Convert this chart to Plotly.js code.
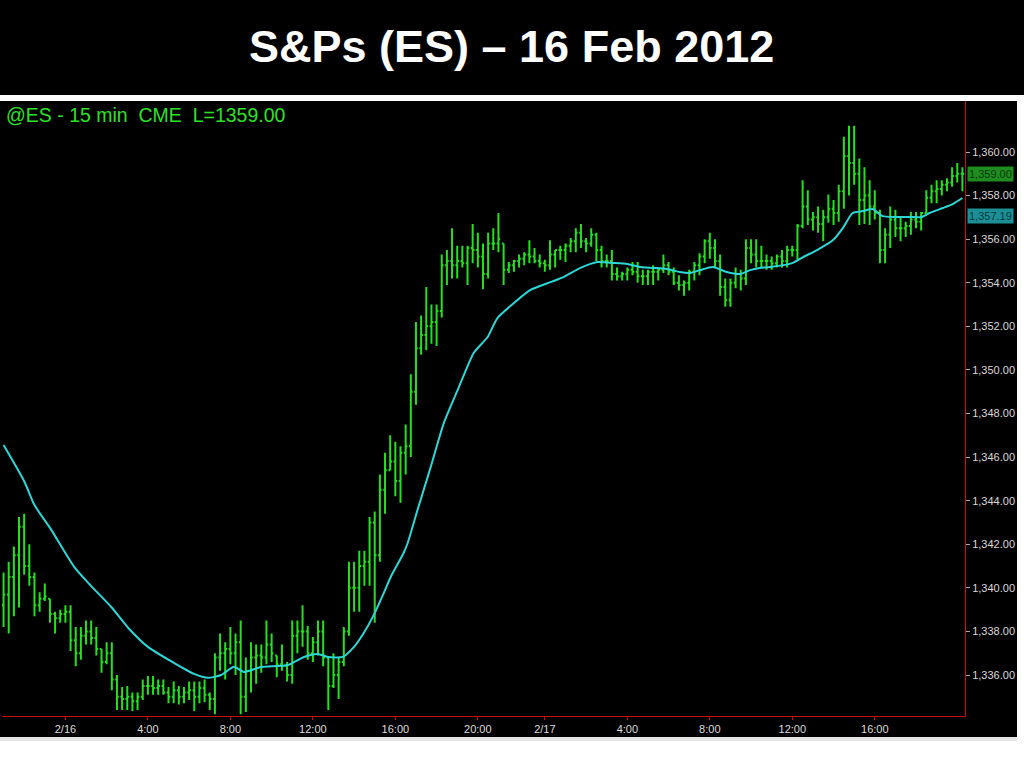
<!DOCTYPE html>
<html>
<head>
<meta charset="utf-8">
<script src="https://cdn.plot.ly/plotly-3.0.1.min.js"></script>
<style>
html,body{margin:0;padding:0;background:#fff;}
#chart{width:1024px;height:768px;}
</style>
</head>
<body>
<div id="chart"></div>
<script>
// ---- data (15-min bars) ----
const highs = [1340.7,1341.2,1341.9,1343.25,1343.4,1342.0,1340.7,1339.8,1340.2,1339.5,
1338.9,1339.0,1339.2,1339.2,1338.2,1338.2,1338.5,1338.5,1338.2,1337.2,
1337.5,1337.5,1336.0,1335.45,1335.5,1335.2,1335.2,1335.8,1335.95,1335.95,
1335.8,1335.8,1335.45,1335.7,1335.5,1335.45,1335.7,1335.7,1335.7,1335.8,
1335.2,1337.0,1337.9,1337.5,1338.2,1337.9,1338.5,1336.8,1337.5,1337.4,
1337.4,1338.5,1337.9,1336.9,1337.4,1336.6,1338.5,1338.5,1339.2,1338.25,
1337.75,1338.5,1338.5,1336.8,1337.0,1336.8,1338.2,1341.2,1341.2,1341.7,
1341.7,1343.25,1343.5,1345.2,1346.2,1347.0,1346.7,1346.5,1347.5,1349.8,
1352.2,1352.5,1353.8,1353.0,1353.0,1355.3,1355.5,1356.5,1355.7,1355.7,
1355.7,1356.7,1356.3,1355.8,1356.3,1356.5,1357.2,1355.8,1354.95,1355.05,
1355.3,1355.4,1355.95,1355.6,1355.3,1355.05,1355.95,1355.5,1355.7,1355.8,
1356.05,1356.5,1356.7,1356.05,1356.5,1356.3,1355.7,1355.3,1355.5,1354.7,
1354.5,1354.7,1354.95,1354.95,1354.6,1354.6,1354.8,1354.7,1355.3,1354.95,
1354.7,1354.35,1354.1,1354.6,1354.95,1355.35,1356.0,1356.3,1356.0,1355.3,
1354.2,1354.2,1354.7,1354.6,1356.0,1356.0,1356.0,1355.7,1355.3,1355.2,
1355.3,1355.5,1355.7,1355.7,1356.7,1358.7,1358.25,1357.25,1357.5,1357.35,
1358.05,1357.8,1358.5,1360.7,1361.2,1361.2,1359.7,1359.3,1358.7,1358.25,
1357.35,1356.5,1357.5,1357.35,1357.0,1356.8,1357.25,1357.25,1357.25,1358.25,
1358.5,1358.7,1358.7,1358.8,1359.3,1359.5,1359.3];
const lows = [1338.2,1337.9,1338.7,1339.1,1340.6,1340.1,1338.7,1338.9,1339.4,1338.4,
1337.9,1338.4,1338.4,1337.1,1336.4,1336.7,1337.4,1337.4,1336.9,1336.1,
1336.5,1335.3,1334.4,1334.4,1334.4,1334.35,1334.4,1334.85,1335.1,1335.1,
1335.1,1335.1,1334.7,1334.7,1334.65,1334.7,1334.85,1334.35,1334.7,1334.75,
1334.4,1334.2,1336.2,1335.8,1336.5,1336.0,1334.2,1334.3,1335.2,1335.6,
1336.1,1336.5,1336.6,1335.9,1336.2,1335.7,1335.6,1337.0,1337.3,1336.7,
1336.6,1336.9,1336.4,1334.4,1335.4,1334.9,1336.4,1337.8,1338.9,1338.9,
1340.1,1340.1,1338.4,1341.2,1343.4,1345.4,1344.2,1343.9,1345.2,1346.0,
1348.4,1350.7,1350.9,1351.2,1351.1,1352.4,1353.9,1354.2,1354.2,1354.7,
1353.9,1354.9,1354.7,1353.7,1354.2,1355.5,1355.4,1353.9,1354.45,1354.5,
1354.7,1354.8,1354.9,1354.9,1354.7,1354.5,1354.6,1354.7,1355.05,1354.95,
1355.4,1355.4,1355.6,1355.4,1355.65,1355.0,1354.7,1354.7,1354.1,1354.1,
1354.1,1354.1,1354.35,1354.0,1353.9,1353.9,1353.9,1354.1,1354.45,1354.35,
1353.9,1353.65,1353.4,1353.65,1354.1,1354.35,1354.9,1355.1,1354.7,1353.4,
1352.9,1352.9,1353.75,1353.65,1353.9,1354.9,1354.7,1354.7,1354.6,1354.6,
1354.7,1354.7,1354.7,1355.2,1355.05,1356.5,1356.65,1356.4,1356.3,1355.9,
1356.75,1356.65,1356.8,1357.4,1358.0,1358.5,1356.65,1356.7,1356.65,1356.9,
1354.9,1354.9,1355.6,1356.1,1355.9,1356.1,1356.2,1356.5,1356.4,1357.2,
1357.65,1357.65,1358.0,1358.2,1358.4,1358.6,1358.2];
const opens = [1339.2,1339.7,1340.5,1341.5,1342.8,1341.0,1340.5,1339.2,1339.5,1339.5,
1338.8,1338.6,1338.8,1338.9,1337.6,1337.0,1337.8,1338.0,1337.7,1337.2,
1336.6,1337.0,1335.8,1335.0,1334.9,1335.0,1334.8,1335.0,1335.5,1335.5,
1335.4,1335.5,1335.2,1335.0,1335.3,1335.0,1335.2,1335.3,1335.0,1335.4,
1335.1,1334.9,1336.8,1337.0,1337.2,1337.0,1337.5,1335.0,1336.2,1336.8,
1336.9,1336.8,1337.4,1336.9,1336.5,1336.4,1336.0,1337.8,1338.0,1338.0,
1337.0,1337.5,1338.0,1336.8,1335.5,1336.0,1336.6,1338.0,1340.0,1340.0,
1341.0,1341.2,1343.0,1341.5,1344.5,1345.4,1345.8,1344.9,1346.2,1346.5,
1349.0,1351.0,1351.6,1352.0,1352.2,1352.7,1354.8,1355.0,1354.8,1355.0,
1354.9,1355.6,1355.5,1355.2,1354.4,1355.8,1355.8,1355.8,1354.6,1354.8,
1355.0,1355.1,1355.3,1355.2,1355.0,1354.9,1354.8,1355.3,1355.5,1355.5,
1355.7,1355.9,1356.3,1355.9,1355.8,1356.2,1355.5,1355.0,1355.0,1354.4,
1354.3,1354.4,1354.6,1354.5,1354.3,1354.3,1354.5,1354.5,1354.6,1354.8,
1354.5,1354.0,1353.9,1354.0,1354.5,1354.8,1355.2,1355.9,1355.6,1355.0,
1353.8,1353.2,1354.0,1354.4,1354.2,1355.6,1355.3,1355.0,1355.0,1355.0,
1354.9,1355.2,1355.0,1355.5,1355.5,1356.6,1357.5,1356.9,1357.0,1356.7,
1357.0,1357.4,1357.2,1358.2,1359.8,1359.5,1359.0,1357.8,1358.0,1357.5,
1357.2,1355.5,1356.2,1356.9,1356.5,1356.5,1356.6,1356.9,1356.8,1357.2,
1357.9,1358.2,1358.3,1358.5,1358.6,1358.9,1359.0];
const closes = [1339.7,1340.5,1341.5,1342.8,1341.0,1340.5,1339.2,1339.5,1339.6,1338.8,
1338.6,1338.8,1338.9,1337.6,1337.0,1337.8,1338.0,1337.7,1337.2,1336.6,
1337.0,1335.8,1335.0,1334.9,1335.0,1334.8,1335.0,1335.5,1335.5,1335.4,
1335.5,1335.2,1335.0,1335.3,1335.0,1335.2,1335.3,1335.0,1335.4,1335.1,
1334.9,1336.8,1337.0,1337.2,1337.0,1337.5,1335.0,1336.2,1336.8,1336.9,
1336.8,1337.4,1337.0,1336.5,1336.4,1336.0,1337.8,1338.0,1338.0,1337.0,
1337.5,1338.0,1336.8,1335.5,1336.0,1336.6,1338.0,1340.0,1340.0,1341.0,
1341.2,1343.0,1341.5,1344.5,1345.4,1345.8,1344.9,1346.2,1346.5,1349.0,
1351.0,1351.6,1352.0,1352.2,1352.7,1354.8,1355.0,1354.8,1355.0,1354.9,
1355.6,1355.5,1355.2,1354.4,1355.8,1355.8,1356.0,1354.6,1354.8,1355.0,
1355.1,1355.3,1355.2,1355.0,1354.9,1354.8,1355.3,1355.5,1355.5,1355.7,
1355.9,1356.3,1355.9,1355.8,1356.2,1355.5,1355.0,1355.0,1354.4,1354.3,
1354.4,1354.6,1354.5,1354.3,1354.3,1354.5,1354.5,1354.6,1354.8,1354.5,
1354.0,1353.9,1354.0,1354.5,1354.8,1355.2,1355.9,1355.6,1355.0,1353.8,
1353.2,1354.0,1354.4,1354.2,1355.6,1355.3,1355.0,1355.0,1355.0,1354.9,
1355.2,1355.0,1355.5,1355.5,1356.6,1357.5,1356.9,1357.0,1356.7,1357.0,
1357.4,1357.2,1358.2,1359.8,1359.5,1359.0,1357.8,1358.0,1357.5,1357.2,
1355.5,1356.2,1356.9,1356.5,1356.5,1356.6,1356.9,1356.8,1357.2,1357.9,
1358.2,1358.3,1358.5,1358.6,1358.9,1359.0,1359.0];

// moving average line (bar index, value)
const maIdx = [0,4.07,6.0,9.29,13.74,16.45,20.9,24.2,28.07,33.1,36.97,39.68,42.2,44.7,46.65,49.94,
55.17,58.27,60.97,62.9,65.8,67.94,69.87,71.8,73.75,75.1,77.6,78.4,80.3,82.85,85.4,88.1,91.2,
93.9,95.8,99.7,102.2,106.1,108.6,111.9,115.2,118.3,121.0,123.5,126.0,128.7,131.2,133.2,135.1,
137.6,140.3,142.9,144.8,146.7,148.7,153.1,155.1,157.8,160.9,162.8,164.7,166.7,168.6,170.5,
173.2,175.8,178.1,179.6,182.2,184.1,186.0];
const maVal = [1346.55,1344.86,1343.80,1342.65,1340.95,1340.22,1339.12,1338.16,1337.28,1336.55,
1336.05,1335.87,1336.0,1336.38,1336.14,1336.37,1336.46,1336.83,1336.97,1336.83,1336.83,1337.28,
1337.93,1338.75,1339.76,1340.5,1341.6,1342.06,1343.57,1345.54,1347.56,1349.08,1350.78,1351.51,
1352.38,1353.21,1353.67,1354.03,1354.26,1354.68,1354.95,1354.91,1354.86,1354.72,1354.68,1354.63,
1354.49,1354.45,1354.58,1354.72,1354.49,1354.40,1354.58,1354.68,1354.72,1354.91,1355.18,1355.50,
1355.96,1356.51,1357.20,1357.29,1357.38,1357.06,1357.02,1357.02,1357.02,1357.20,1357.43,1357.61,
1357.89];

// x tick labels (bar index where each label sits)
const tickIdx = [12,28,44,60,76,92,105,121,137,153,169];
const tickLabels = ['2/16','4:00','8:00','12:00','16:00','20:00','2/17','4:00','8:00','12:00','16:00'];
// y tick values
const yTicks = [1336,1338,1340,1342,1344,1346,1348,1350,1352,1354,1356,1358,1360];

const lastPrice = 1359.00;
const maLast = 1357.19;

// ---- chart ----
const barIdx = highs.map((_, i) => i);
const GREEN = '#25e01f';
const FONT = 'Liberation Sans, Arial, sans-serif';

const traces = [
  {
    type: 'ohlc', x: barIdx, open: opens, high: highs, low: lows, close: closes,
    increasing: {line: {color: GREEN, width: 2}},
    decreasing: {line: {color: GREEN, width: 2}},
    tickwidth: 0.35, hoverinfo: 'skip', showlegend: false
  },
  {
    type: 'scatter', mode: 'lines', x: maIdx, y: maVal,
    line: {color: '#2fd6d6', width: 2, shape: 'spline', smoothing: 0.6},
    hoverinfo: 'skip', showlegend: false
  }
];

// pixel -> paper helpers (plot area: x 2..965, y 101..716)
const PX = p => (p - 2) / 963;
const PY = p => (716 - p) / 615;

const layout = {
  width: 1024, height: 768,
  margin: {l: 2, r: 59, t: 101, b: 52, pad: 0},
  paper_bgcolor: '#ffffff',
  plot_bgcolor: '#000000',
  font: {family: FONT, color: '#dddddd', size: 11},
  showlegend: false,
  xaxis: {
    range: [-0.3, 186.5], showgrid: false, zeroline: false,
    showline: true, linecolor: '#c01010', linewidth: 1,
    ticks: 'outside', ticklen: 3, tickcolor: '#c01010',
    tickmode: 'array', tickvals: tickIdx, ticktext: tickLabels,
    tickfont: {family: FONT, size: 11, color: '#dddddd'},
    rangeslider: {visible: false}, fixedrange: true
  },
  yaxis: {
    side: 'right', range: [1334.12, 1362.34], showgrid: false, zeroline: false,
    showline: true, linecolor: '#c01010', linewidth: 1,
    ticks: 'outside', ticklen: 4, tickcolor: '#aaaaaa',
    tickmode: 'array', tickvals: yTicks, tickformat: ',.2f',
    tickfont: {family: FONT, size: 11, color: '#d8d8d8'},
    fixedrange: true
  },
  shapes: [
    {type: 'rect', xref: 'paper', yref: 'paper', layer: 'below',
     x0: PX(0), x1: PX(1024), y0: PY(95), y1: PY(0),
     fillcolor: '#000000', line: {width: 0}},
    {type: 'rect', xref: 'paper', yref: 'paper', layer: 'below',
     x0: PX(0), x1: PX(1017), y0: PY(737), y1: PY(101),
     fillcolor: '#000000', line: {width: 0}},
    {type: 'rect', xref: 'paper', yref: 'paper', layer: 'below',
     x0: PX(0), x1: PX(1017), y0: PY(741), y1: PY(737),
     fillcolor: '#e6e6e6', line: {width: 0}}
  ],
  annotations: [
    {xref: 'paper', yref: 'paper', x: PX(512), y: PY(47), xanchor: 'center', yanchor: 'middle',
     text: '<b>S&amp;Ps (ES) \u2013 16 Feb 2012</b>', showarrow: false,
     font: {family: FONT, size: 45, color: '#ffffff'}},
    {xref: 'paper', yref: 'paper', x: PX(4), y: PY(115), xanchor: 'left', yanchor: 'middle',
     text: '@ES - 15 min\u00a0\u00a0CME\u00a0\u00a0L=' + lastPrice.toFixed(2), showarrow: false,
     font: {family: FONT, size: 19.5, color: '#2fe02a'}},
    {xref: 'paper', yref: 'y', x: PX(967), y: lastPrice, xanchor: 'left', yanchor: 'middle',
     text: '1,' + (lastPrice - 1000).toFixed(2), showarrow: false, bgcolor: '#1e8c1e', borderpad: 1,
     font: {family: FONT, size: 11, color: '#0c3a0c'}},
    {xref: 'paper', yref: 'y', x: PX(967), y: 1357.05, xanchor: 'left', yanchor: 'middle',
     text: '1,' + (maLast - 1000).toFixed(2), showarrow: false, bgcolor: '#1c8f96', borderpad: 1,
     font: {family: FONT, size: 11, color: '#0a3a40'}}
  ]
};

Plotly.newPlot('chart', traces, layout, {displayModeBar: false, staticPlot: true});
</script>
</body>
</html>
